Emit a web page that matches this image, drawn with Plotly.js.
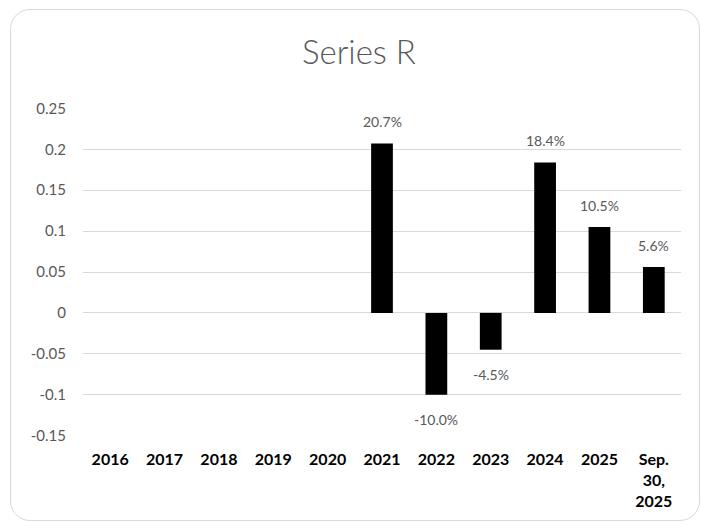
<!DOCTYPE html>
<html>
<head>
<meta charset="utf-8">
<script src="https://cdn.plot.ly/plotly-3.0.1.min.js"></script>
<style>
  body { margin: 0; background: #fff; }
  #wrap { position: relative; width: 701px; height: 529px; }
  #chart { position: absolute; left: 0; top: 0; width: 701px; height: 529px; }
  #frame { position: absolute; left: 10px; top: 9px; width: 688px; height: 510px;
           border: 1.5px solid #d9d9d9; border-radius: 20px; pointer-events: none; }
</style>
</head>
<body>
<div id="wrap">
  <div id="chart"></div>
  <div id="frame"></div>
</div>
<script>
const categories = ["2016", "2017", "2018", "2019", "2020", "2021", "2022", "2023", "2024", "2025", "Sep.<br>30,<br>2025"];
const values = [null, null, null, null, null, 0.207, -0.100, -0.045, 0.184, 0.105, 0.056];
const labels = ["", "", "", "", "", "20.7%", "-10.0%", "-4.5%", "18.4%", "10.5%", "5.6%"];
const yTickVals = [-0.15, -0.1, -0.05, 0, 0.05, 0.1, 0.15, 0.2, 0.25];
const yTickText = ["-0.15", "-0.1", "-0.05", "0", "0.05", "0.1", "0.15", "0.2", "0.25"];

const font = "Lato, 'Open Sans', sans-serif";
const positions = categories.map((c, i) => i);

const annotations = [];
positions.forEach((p, i) => {
  if (values[i] === null) return;
  annotations.push({
    x: p, y: values[i], xref: 'x', yref: 'y',
    text: labels[i], showarrow: false,
    yanchor: 'middle', yshift: values[i] >= 0 ? 22 : -25,
    font: { family: font, size: 14, color: '#595959' }
  });
});

const data = [{
  type: 'bar',
  x: positions,
  y: values,
  marker: { color: '#000000' },
  hoverinfo: 'none'
}];

const layout = {
  width: 701, height: 529,
  margin: { l: 83, r: 20, t: 108, b: 93 },
  paper_bgcolor: 'rgba(0,0,0,0)',
  plot_bgcolor: 'rgba(0,0,0,0)',
  bargap: 0.6,
  showlegend: false,
  title: {
    text: 'Series R',
    font: { family: font, size: 33, color: '#595959', weight: 300 },
    x: 0.512, xanchor: 'center', xref: 'container',
    y: 0.90, yanchor: 'middle', yref: 'container'
  },
  xaxis: {
    type: 'linear',
    range: [-0.5, categories.length - 0.5],
    tickmode: 'array', tickvals: positions, ticktext: categories,
    showgrid: false, zeroline: false, showline: false,
    ticks: '', tickfont: { family: font, size: 16, color: '#000000', weight: 'bold' },
    tickangle: 0,
    ticklabelstandoff: 12,
    fixedrange: true
  },
  yaxis: {
    range: [-0.1505, 0.2505],
    tickmode: 'array', tickvals: yTickVals, ticktext: yTickText,
    showgrid: true, gridcolor: '#d9d9d9', gridwidth: 1,
    zeroline: false, showline: false, ticks: '',
    tickfont: { family: font, size: 15, color: '#595959' },
    ticklabelstandoff: 16,
    fixedrange: true
  },
  annotations: annotations
};

Plotly.newPlot('chart', data, layout, { displayModeBar: false, staticPlot: true });
</script>
</body>
</html>
